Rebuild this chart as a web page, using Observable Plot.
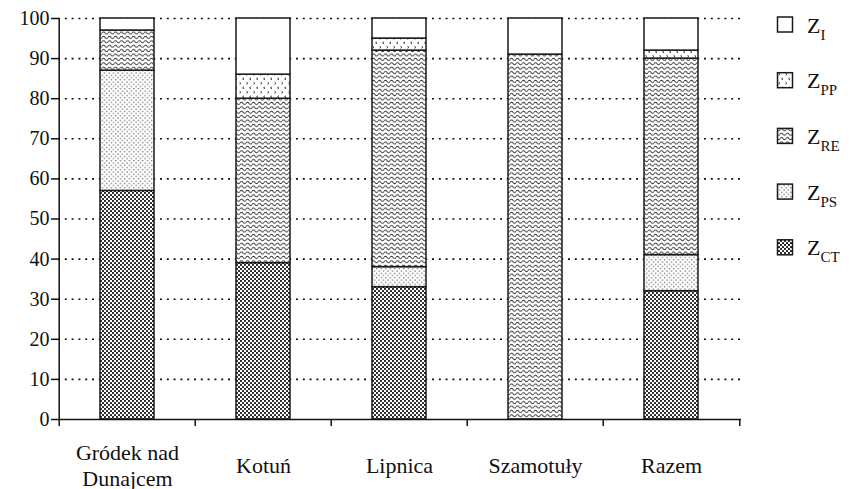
<!DOCTYPE html>
<html><head><meta charset="utf-8">
<script src="https://cdn.jsdelivr.net/npm/d3@7"></script>
<script src="https://cdn.jsdelivr.net/npm/@observablehq/plot@0.6"></script>
<style>
body{margin:0;background:#fff}
</style>
</head><body><div id="chart"></div>
<script>
// ---- data ----
const categories = ["Gródek nad\nDunajcem", "Kotuń", "Lipnica", "Szamotuły", "Razem"];
const seriesKeys = ["CT", "PS", "RE", "PP", "I"];   // bottom -> top
const zCT = [57, 39, 33, 0, 32];
const zPS = [30, 0, 5, 0, 9];
const zRE = [10, 41, 54, 91, 49];
const zPP = [0, 6, 3, 0, 2];
const zI  = [3, 14, 5, 9, 8];
const yTicks = [0, 10, 20, 30, 40, 50, 60, 70, 80, 90, 100];
const legendOrder = ["I", "PP", "RE", "PS", "CT"];

const seriesArrays = [zCT, zPS, zRE, zPP, zI];
const rows = [];
seriesKeys.forEach((s, si) => {
  categories.forEach((c, ci) => {
    const v = seriesArrays[si][ci];
    if (v > 0) rows.push({category: c, series: s, value: v});
  });
});

const FONT = "Liberation Serif";
const W = 855, H = 489;
const mL = 58, mR = 114, mT = 18, mB = 70;
const step = (W - mL - mR) / categories.length;

const chart = Plot.plot({
  width: W, height: H,
  marginLeft: mL, marginRight: mR, marginTop: mT, marginBottom: mB,
  style: {fontFamily: FONT, fontSize: "20px", color: "#111", background: "#fff"},
  x: {domain: categories, paddingInner: 0.6, paddingOuter: 0.3, axis: null},
  y: {domain: [0, 100], axis: null, label: null},
  color: {domain: seriesKeys, range: seriesKeys.map(s => `url(#pat-${s})`)},
  marks: [
    Plot.gridY(yTicks.filter(d => d > 0), {stroke: "#111", strokeOpacity: 1, strokeWidth: 1.6, strokeDasharray: "2,4.8"}),
    Plot.barY(rows, {x: "category", y: "value", fill: "series", order: seriesKeys, stroke: "#1a1a1a", strokeWidth: 1.5}),
    Plot.ruleY([0], {stroke: "#111", strokeWidth: 1.5}),
    Plot.ruleX([categories[0]], {dx: -step / 2, stroke: "#111", strokeWidth: 1.5}),
    Plot.ruleX(categories, {x: d => d, dx: -step / 2, y1: 0, y2: 0, insetBottom: -7, stroke: "#111", strokeWidth: 1.5}),
    Plot.ruleX([categories[categories.length - 1]], {x: d => d, dx: step / 2, y1: 0, y2: 0, insetBottom: -7, stroke: "#111", strokeWidth: 1.5}),
    Plot.axisY(yTicks, {tickSize: 7, tickPadding: 2, strokeWidth: 1.5, fontSize: 20, fontFamily: FONT, label: null}),
    Plot.text(categories, {x: d => d, frameAnchor: "bottom", dy: 45, lineAnchor: "middle", lineHeight: 1.2, fontSize: 22, fontFamily: FONT, fill: "#111"})
  ]
});

// ---- patterns ----
const svg = d3.select(chart);
const defs = svg.insert("defs", ":first-child");
function pat(id, w, h) {
  const p = defs.append("pattern").attr("id", id).attr("patternUnits", "userSpaceOnUse").attr("width", w).attr("height", h);
  p.append("rect").attr("width", w).attr("height", h).attr("fill", "#fff");
  return p;
}
// CT: dense dark dots
let p = pat("pat-CT", 4, 4);
p.append("circle").attr("cx", 1).attr("cy", 1).attr("r", 1.05).attr("fill", "#111");
p.append("circle").attr("cx", 3).attr("cy", 3).attr("r", 1.05).attr("fill", "#111");
// PS: sparse light dots
p = pat("pat-PS", 4.5, 4.5);
p.append("rect").attr("x", 0.5).attr("y", 0.5).attr("width", 1.1).attr("height", 1.1).attr("fill", "#444");
p.append("rect").attr("x", 2.75).attr("y", 2.75).attr("width", 1.1).attr("height", 1.1).attr("fill", "#444");
// RE: wavy lines
p = pat("pat-RE", 6, 4.4);
p.append("path").attr("d", "M0,2.2 Q1.5,0 3,2.2 T6,2.2").attr("fill", "none").attr("stroke", "#222").attr("stroke-width", 0.9);
// PP: small chevrons
p = pat("pat-PP", 7, 9);
p.append("path").attr("d", "M1.5,1.3 L3,2.3 L1.5,3.3").attr("fill", "none").attr("stroke", "#333").attr("stroke-width", 0.9);
p.append("path").attr("d", "M6,5.8 L4.5,6.8 L6,7.8").attr("fill", "none").attr("stroke", "#333").attr("stroke-width", 0.9);
// I: plain white
pat("pat-I", 4, 4);

// ---- legend ----
const lg = svg.append("g").attr("fill", "#111").attr("text-anchor", "start");
legendOrder.forEach((s, i) => {
  const cy = 24.5 + i * 55.7;
  lg.append("rect").attr("x", 777.5).attr("y", cy - 7.5).attr("width", 15).attr("height", 15)
    .attr("fill", `url(#pat-${s})`).attr("stroke", "#1a1a1a").attr("stroke-width", 1.5);
  const t = lg.append("text").attr("x", 807).attr("y", cy + 8).attr("text-anchor", "start")
    .attr("font-size", 22).style("font-size", "22px").style("text-anchor", "start").text("Z");
  t.append("tspan").attr("dy", 7).attr("font-size", 15).style("font-size", "15px").text(s);
});

// use the serif font on every text
svg.selectAll("text, tspan").attr("font-family", FONT).style("font-family", FONT);

document.getElementById("chart").appendChild(chart);
</script>
</body></html>
